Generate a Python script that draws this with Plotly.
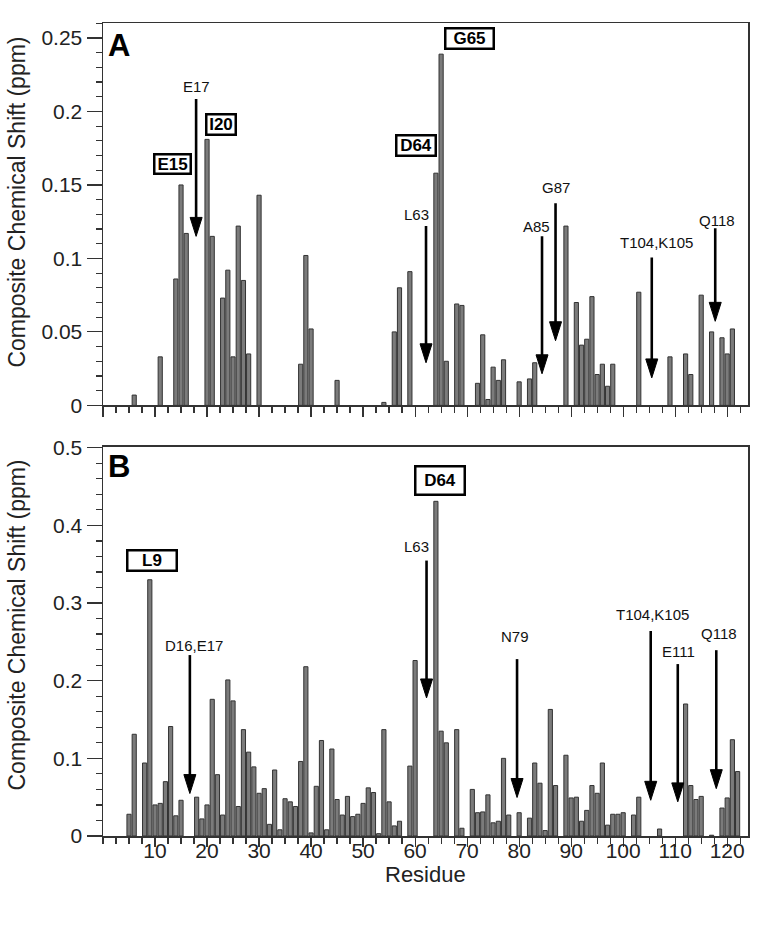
import plotly.graph_objects as go

# ---------------- data ----------------
# Panel A: composite chemical shift per residue
res_a = [6, 11, 14, 15, 16, 20, 21, 23, 24, 25, 26, 27, 28, 30, 38, 39, 40, 45, 54,
         56, 57, 59, 64, 65, 66, 68, 69, 72, 73, 74, 75, 76, 77, 80, 82, 83, 89, 91,
         92, 93, 94, 95, 96, 97, 98, 103, 109, 112, 113, 115, 117, 119, 120, 121]
csp_a = [0.007, 0.033, 0.086, 0.150, 0.117, 0.181, 0.115, 0.073, 0.092, 0.033, 0.122,
         0.085, 0.035, 0.143, 0.028, 0.102, 0.052, 0.017, 0.002, 0.050, 0.080, 0.091,
         0.158, 0.239, 0.030, 0.069, 0.068, 0.015, 0.048, 0.004, 0.026, 0.017, 0.031,
         0.016, 0.018, 0.029, 0.122, 0.070, 0.041, 0.045, 0.074, 0.021, 0.028, 0.013,
         0.028, 0.077, 0.033, 0.035, 0.021, 0.075, 0.050, 0.046, 0.035, 0.052]

# Panel B
res_b = [5, 6, 8, 9, 10, 11, 12, 13, 14, 15, 18, 19, 20, 21, 22, 23, 24, 25, 26, 27,
         28, 29, 30, 31, 32, 33, 34, 35, 36, 37, 38, 39, 40, 41, 42, 43, 44, 45, 46,
         47, 48, 49, 50, 51, 52, 53, 54, 55, 56, 57, 59, 60, 64, 65, 66, 68, 69, 71,
         72, 73, 74, 75, 76, 77, 78, 80, 82, 83, 84, 85, 86, 87, 89, 90, 91, 92, 93,
         94, 95, 96, 97, 98, 99, 100, 102, 103, 107, 112, 113, 114, 115, 117, 119,
         120, 121, 122]
csp_b = [0.028, 0.131, 0.094, 0.330, 0.040, 0.042, 0.070, 0.141, 0.026, 0.046, 0.050,
         0.022, 0.040, 0.176, 0.079, 0.027, 0.201, 0.174, 0.038, 0.137, 0.108, 0.089,
         0.055, 0.061, 0.015, 0.085, 0.008, 0.048, 0.044, 0.038, 0.096, 0.218, 0.004,
         0.064, 0.123, 0.008, 0.112, 0.047, 0.027, 0.051, 0.025, 0.028, 0.042, 0.062,
         0.056, 0.003, 0.137, 0.044, 0.013, 0.019, 0.090, 0.226, 0.431, 0.135, 0.120,
         0.137, 0.010, 0.060, 0.030, 0.031, 0.053, 0.017, 0.019, 0.100, 0.027, 0.030,
         0.023, 0.094, 0.068, 0.007, 0.163, 0.065, 0.104, 0.049, 0.050, 0.019, 0.033,
         0.065, 0.055, 0.094, 0.014, 0.028, 0.028, 0.030, 0.027, 0.050, 0.009, 0.170,
         0.065, 0.047, 0.051, 0.001, 0.036, 0.049, 0.124, 0.083]

# Arrow annotations (residue position, arrow top, arrow tip, label position)
arrow_a_text = ["E17", "L63", "A85", "G87", "T104,K105", "Q118"]
arrow_a_x = [17.9, 62.1, 84.4, 87.0, 105.5, 117.7]
arrow_a_top = [0.2084, 0.122, 0.115, 0.1375, 0.1007, 0.1206]
arrow_a_tip = [0.115, 0.029, 0.0215, 0.044, 0.0187, 0.0572]
arrow_a_lx = [17.9, 60.3, 83.3, 87.0, 106.5, 118.0]
arrow_a_ly = [0.217, 0.130, 0.1217, 0.148, 0.111, 0.126]

arrow_b_text = ["D16,E17", "L63", "N79", "T104,K105", "E111", "Q118"]
arrow_b_x = [16.7, 62.2, 79.6, 105.3, 110.5, 117.9]
arrow_b_top = [0.233, 0.3547, 0.2278, 0.264, 0.2214, 0.2393]
arrow_b_tip = [0.0547, 0.1778, 0.0496, 0.046, 0.044, 0.061]
arrow_b_lx = [17.4, 60.3, 79.2, 105.7, 110.7, 118.4]
arrow_b_ly = [0.2458, 0.373, 0.257, 0.2855, 0.2376, 0.2607]

# Boxed residue labels
box_a_text = ["E15", "I20", "D64", "G65"]
box_a_x = [13.3, 22.6, 60.1, 70.4]
box_a_y = [0.164, 0.191, 0.177, 0.2494]
box_b_text = ["L9", "D64"]
box_b_x = [9.4, 64.8]
box_b_y = [0.355, 0.4577]

x_tickvals = [0, 10, 20, 30, 40, 50, 60, 70, 80, 90, 100, 110, 120]
x_ticktext = ["", "10", "20", "30", "40", "50", "60", "70", "80", "90", "100", "110", "120"]

# ---------------- style ----------------
FONT = "Liberation Sans, Arial, Helvetica, sans-serif"
W, H = 768, 927
ML, MR, MT, MB = 103, 20, 21, 91
PW, PH = W - ML - MR, H - MT - MB
XMAX = 124
YA_MAX, YB_MAX = 0.2602, 0.501
dom_a = [(836 - 404.3) / PH, 1.0]
dom_b = [0.0, (836 - 446) / PH]

box_a_size = [(34, 17), (27, 18), (37, 18), (46, 18)]
box_b_size = [(47, 18), (47, 26)]

bar_style = dict(marker=dict(color="#7b7b7b", line=dict(color="#333333", width=1)), width=0.8)

fig = go.Figure()
fig.add_trace(go.Bar(x=res_a, y=csp_a, xaxis="x", yaxis="y", **bar_style, showlegend=False,
                     hoverinfo="skip"))
fig.add_trace(go.Bar(x=res_b, y=csp_b, xaxis="x2", yaxis="y2", **bar_style, showlegend=False,
                     hoverinfo="skip"))

axis_line = dict(showline=True, linecolor="#333333", linewidth=1.5, mirror=True,
                 showgrid=False, zeroline=False, ticks="outside", tickcolor="#333333",
                 tickwidth=1.2, tickfont=dict(family=FONT, size=21, color="#222222"))

minor_x = [i * 2.5 for i in range(int(XMAX / 2.5) + 1)]

fig.update_layout(
    width=W, height=H, margin=dict(l=ML, r=MR, t=MT, b=MB),
    paper_bgcolor="white", plot_bgcolor="white", bargap=0.2,
    xaxis=dict(domain=[0, 1], range=[0, XMAX], anchor="y", tickmode="array",
               tickvals=x_tickvals, showticklabels=False, ticklen=10,
               minor=dict(tickmode="array", tickvals=minor_x, ticklen=6, ticks="outside",
                          tickcolor="#333333", tickwidth=1.2),
               **axis_line),
    yaxis=dict(domain=dom_a, range=[0, YA_MAX], anchor="x", dtick=0.05, tick0=0, ticklen=15,
               minor=dict(dtick=0.01, tick0=0, ticklen=6, ticks="outside",
                          tickcolor="#333333", tickwidth=1.2),
               **axis_line),
    xaxis2=dict(domain=[0, 1], range=[0, XMAX], anchor="y2", tickmode="array",
                tickvals=x_tickvals, ticktext=x_ticktext, ticklen=9, ticklabelstandoff=-14,
                minor=dict(tickmode="array", tickvals=minor_x, ticklen=6, ticks="outside",
                           tickcolor="#333333", tickwidth=1.2),
                **axis_line),
    yaxis2=dict(domain=dom_b, range=[0, YB_MAX], anchor="x2", dtick=0.1, tick0=0, ticklen=15,
                minor=dict(dtick=0.02, tick0=0, ticklen=6, ticks="outside",
                           tickcolor="#333333", tickwidth=1.2),
                **axis_line),
)

shapes = []
annotations = []
HW_PX, HL_PX = 6.0, 19.0
px_per_res = PW / XMAX


def add_arrows(texts, xs, tops, tips, lxs, lys, xref, yref, ymax, dom):
    px_per_val = PH * (dom[1] - dom[0]) / ymax
    hw = HW_PX / px_per_res
    hl = HL_PX / px_per_val
    for t, x, top, tip, lx, ly in zip(texts, xs, tops, tips, lxs, lys):
        shapes.append(dict(type="line", xref=xref, yref=yref, x0=x, x1=x, y0=top, y1=tip + hl * 0.6,
                           line=dict(color="black", width=2.6)))
        shapes.append(dict(type="path", xref=xref, yref=yref,
                           path=f"M {x - hw},{tip + hl} L {x + hw},{tip + hl} L {x},{tip} Z",
                           fillcolor="black", line=dict(color="black", width=1)))
        annotations.append(dict(x=lx, y=ly, xref=xref, yref=yref, text=t, showarrow=False,
                                font=dict(family=FONT, size=15, color="#111111"),
                                xanchor="center", yanchor="middle"))


def add_boxes(texts, xs, ys, sizes, xref, yref):
    for t, x, y, (w, h) in zip(texts, xs, ys, sizes):
        annotations.append(dict(x=x, y=y, xref=xref, yref=yref, text=f"<b>{t}</b>",
                                showarrow=False, width=w, height=h, borderpad=0,
                                bordercolor="black", borderwidth=2.5, bgcolor="white",
                                font=dict(family=FONT, size=17, color="black"),
                                align="center", valign="middle",
                                xanchor="center", yanchor="middle"))


add_arrows(arrow_a_text, arrow_a_x, arrow_a_top, arrow_a_tip, arrow_a_lx, arrow_a_ly,
           "x", "y", YA_MAX, dom_a)
add_arrows(arrow_b_text, arrow_b_x, arrow_b_top, arrow_b_tip, arrow_b_lx, arrow_b_ly,
           "x2", "y2", YB_MAX, dom_b)
add_boxes(box_a_text, box_a_x, box_a_y, box_a_size, "x", "y")
add_boxes(box_b_text, box_b_x, box_b_y, box_b_size, "x2", "y2")

# panel letters
annotations.append(dict(x=3.0, y=0.245, xref="x", yref="y", text="<b>A</b>", showarrow=False,
                        font=dict(family=FONT, size=31, color="black"), xanchor="center", yanchor="middle"))
annotations.append(dict(x=3.0, y=0.476, xref="x2", yref="y2", text="<b>B</b>", showarrow=False,
                        font=dict(family=FONT, size=31, color="black"), xanchor="center", yanchor="middle"))

# axis titles
title_font = dict(family=FONT, size=23, color="#222222")
annotations.append(dict(x=(17 - ML) / PW, y=(836 - 201) / PH, xref="paper", yref="paper",
                        text="Composite Chemical Shift (ppm)", textangle=-90, showarrow=False,
                        font=title_font, xanchor="center", yanchor="middle"))
annotations.append(dict(x=(17 - ML) / PW, y=(836 - 625) / PH, xref="paper", yref="paper",
                        text="Composite Chemical Shift (ppm)", textangle=-90, showarrow=False,
                        font=title_font, xanchor="center", yanchor="middle"))
annotations.append(dict(x=0.5, y=(836 - 875) / PH, xref="paper", yref="paper",
                        text="Residue", showarrow=False, font=dict(family=FONT, size=22, color="#222222"),
                        xanchor="center", yanchor="middle"))

fig.update_layout(shapes=shapes, annotations=annotations)
fig.write_html("out.html", config={"displayModeBar": False, "staticPlot": True},
               post_script="document.body.style.margin='0px';document.body.style.overflow='hidden';")
